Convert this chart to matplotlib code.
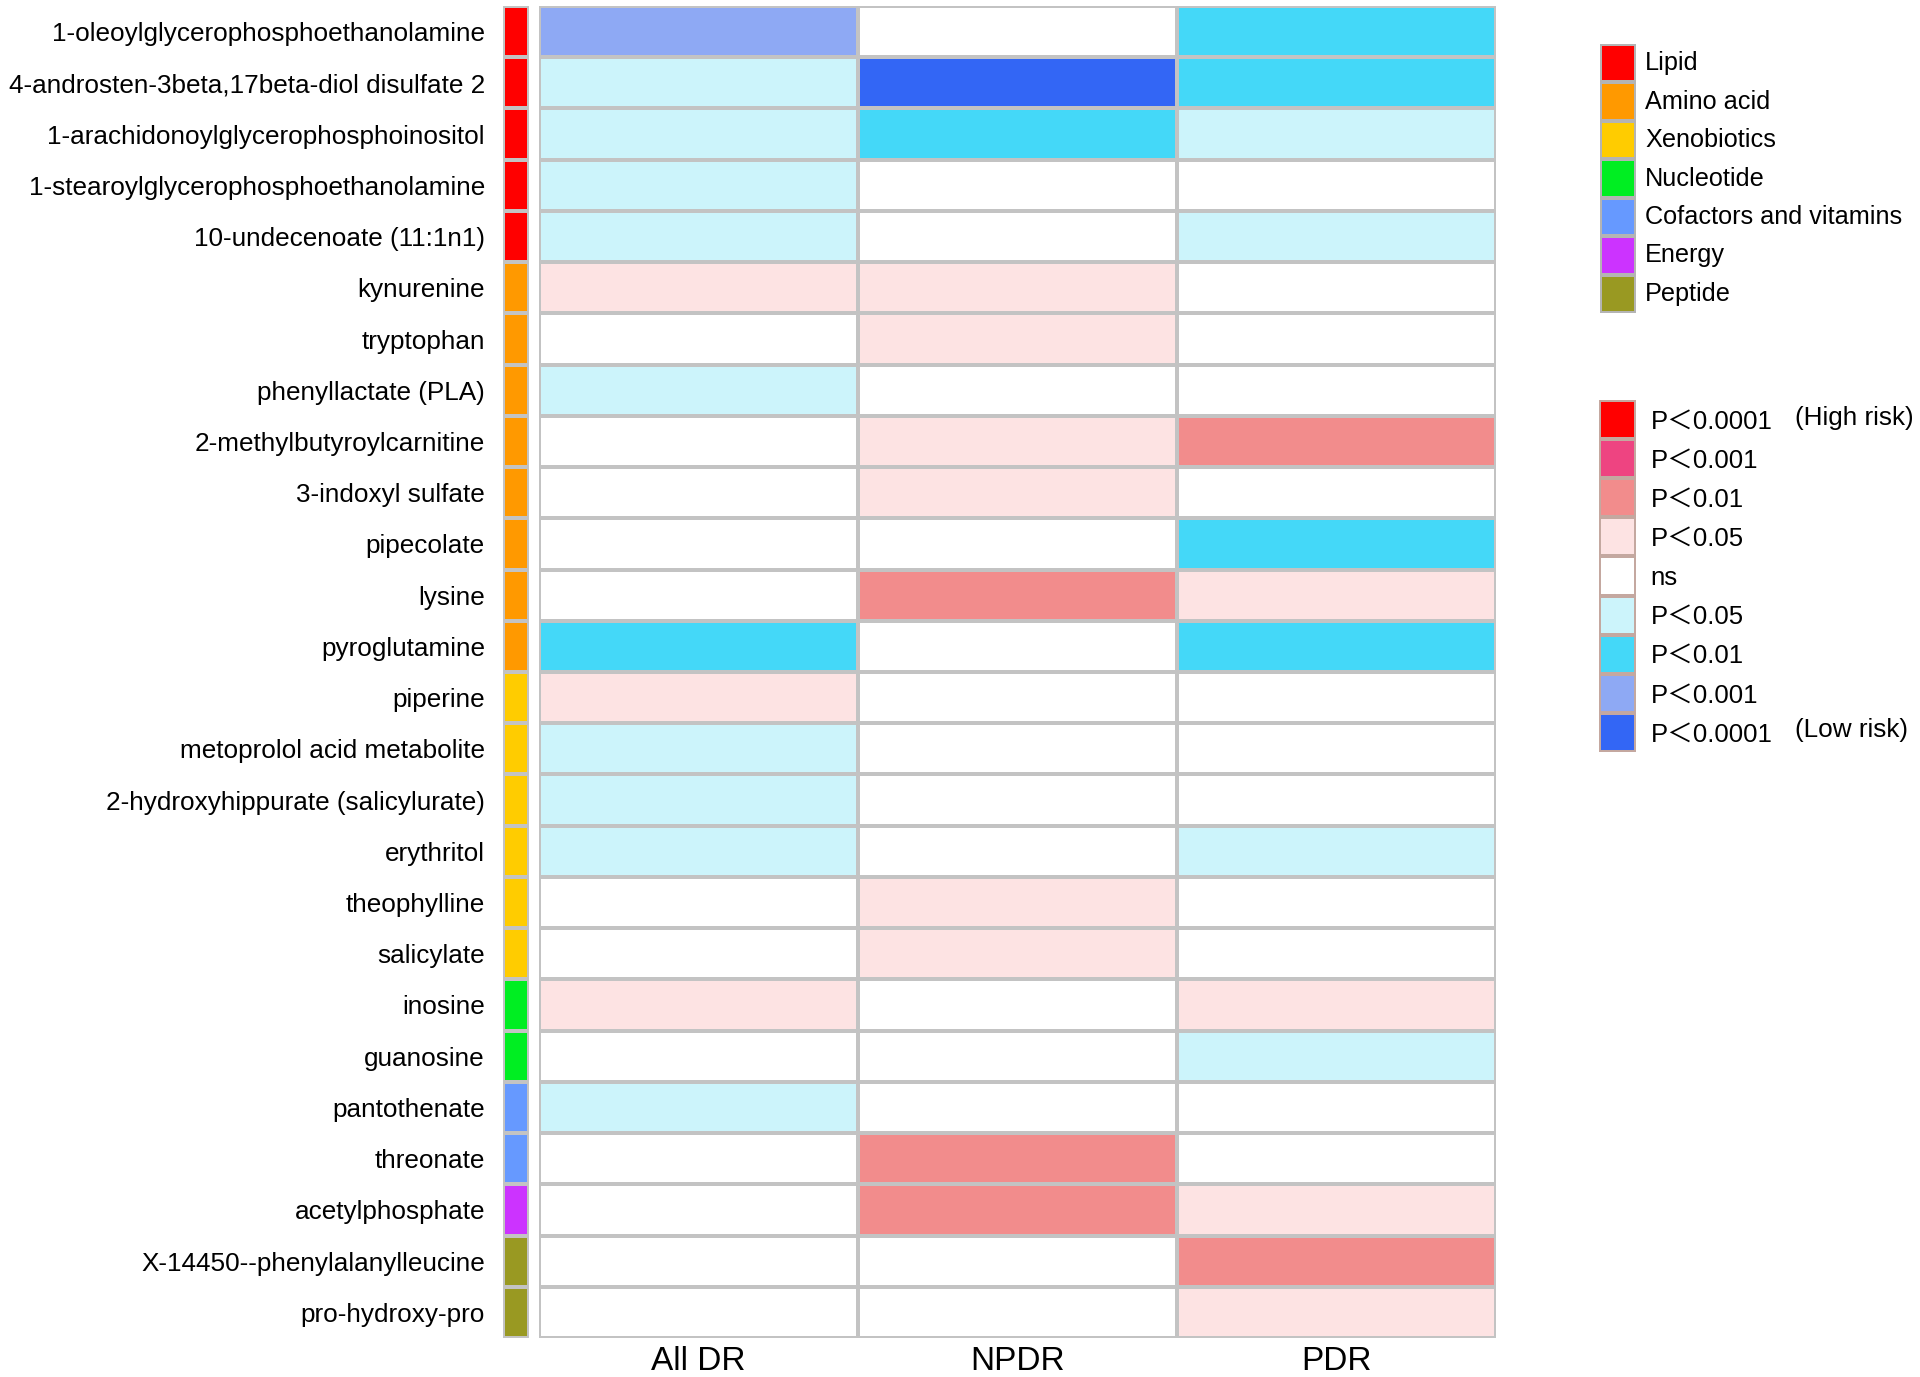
import numpy as np
import matplotlib
matplotlib.use('Agg')
from matplotlib import pyplot as plt
from matplotlib import font_manager
from matplotlib.colors import ListedColormap, BoundaryNorm

# metabolites (top to bottom) and their class
metabolites = ['1-oleoylglycerophosphoethanolamine',
               '4-androsten-3beta,17beta-diol disulfate 2',
               '1-arachidonoylglycerophosphoinositol',
               '1-stearoylglycerophosphoethanolamine',
               '10-undecenoate (11:1n1)',
               'kynurenine', 'tryptophan', 'phenyllactate (PLA)',
               '2-methylbutyroylcarnitine', '3-indoxyl sulfate', 'pipecolate',
               'lysine', 'pyroglutamine',
               'piperine', 'metoprolol acid metabolite',
               '2-hydroxyhippurate (salicylurate)', 'erythritol', 'theophylline',
               'salicylate',
               'inosine', 'guanosine',
               'pantothenate', 'threonate',
               'acetylphosphate',
               'X-14450--phenylalanylleucine', 'pro-hydroxy-pro']
row_class = [0, 0, 0, 0, 0,
             1, 1, 1, 1, 1, 1, 1, 1,
             2, 2, 2, 2, 2, 2,
             3, 3,
             4, 4,
             5,
             6, 6]

groups = ['All DR', 'NPDR', 'PDR']
# significance level: +4 = P<0.0001 high risk ... 0 = ns ... -4 = P<0.0001 low risk
all_dr = [-3, -1, -1, -1, -1, 1, 0, -1, 0, 0, 0, 0, -2, 1, -1, -1, -1, 0, 0, 1, 0, -1, 0, 0, 0, 0]
npdr = [0, -4, -2, 0, 0, 1, 1, 0, 1, 1, 0, 2, 0, 0, 0, 0, 0, 1, 1, 0, 0, 0, 2, 2, 0, 0]
pdr = [-2, -2, -1, 0, -1, 0, 0, 0, 2, 0, -2, 1, -2, 0, 0, 0, -1, 0, 0, 1, -1, 0, 0, 1, 2, 1]

class_names = ['Lipid', 'Amino acid', 'Xenobiotics', 'Nucleotide',
               'Cofactors and vitamins', 'Energy', 'Peptide']
class_colors = ['#FF0000', '#FF9900', '#FFCC00', '#00EE22',
                '#6699FF', '#CC33FF', '#999922']

sig_levels = [4, 3, 2, 1, 0, -1, -2, -3, -4]
sig_labels = ['P＜0.0001', 'P＜0.001', 'P＜0.01', 'P＜0.05', 'ns',
              'P＜0.05', 'P＜0.01', 'P＜0.001', 'P＜0.0001']
sig_colors = ['#FF0000', '#EE4481', '#F28C8C', '#FDE3E3', '#FFFFFF',
              '#CCF4FB', '#44D8F8', '#8EA9F4', '#3366F5']

names = {f.name for f in font_manager.fontManager.ttflist}
narrow = 'Liberation Sans Narrow' if 'Liberation Sans Narrow' in names else 'Liberation Sans'
plt.rcParams['font.family'] = ['Liberation Sans', 'Noto Sans CJK SC', 'DejaVu Sans']

W, H = 1920, 1377
fig = plt.figure(figsize=(W / 100, H / 100), dpi=100)


def px_axes(x0, y0, x1, y1):
    # axes from pixel box (top-left origin)
    return fig.add_axes([x0 / W, 1 - y1 / H, (x1 - x0) / W, (y1 - y0) / H])


grid_col = '#C3C3C3'
n = len(metabolites)

# main heatmap
ax = px_axes(539, 6, 1496, 1338)
Z = np.array([all_dr, npdr, pdr]).T
cmap = ListedColormap(sig_colors[::-1])
norm = BoundaryNorm(np.arange(-4.5, 5.5, 1), cmap.N)
ax.pcolormesh(Z, cmap=cmap, norm=norm, edgecolors=grid_col, linewidth=1.6)
ax.set_xlim(0, 3)
ax.set_ylim(n, 0)
ax.set_xticks(np.arange(3) + 0.5)
ax.set_xticklabels(groups, fontsize=27 if narrow != 'Liberation Sans' else 24, family=narrow)
ax.set_yticks([])
ax.tick_params(axis='x', length=0, pad=6)
for s in ax.spines.values():
    s.set_visible(False)

# class colour strip with metabolite names
ax_s = px_axes(503, 6, 529, 1338)
cmap_c = ListedColormap(class_colors)
ax_s.pcolormesh(np.array(row_class).reshape(-1, 1), cmap=cmap_c,
                vmin=-0.5, vmax=len(class_colors) - 0.5,
                edgecolors=grid_col, linewidth=1.6)
ax_s.set_xlim(0, 1)
ax_s.set_ylim(n, 0)
ax_s.set_xticks([])
ax_s.set_yticks(np.arange(n) + 0.5)
ax_s.set_yticklabels(metabolites, fontsize=18.8)
ax_s.tick_params(axis='y', length=0, pad=13)
for s in ax_s.spines.values():
    s.set_visible(False)

# legend for classes
ax_l1 = px_axes(1600, 44, 1636, 313)
ax_l1.pcolormesh(np.arange(len(class_names)).reshape(-1, 1), cmap=cmap_c,
                 vmin=-0.5, vmax=len(class_colors) - 0.5,
                 edgecolors='#B4B4B4', linewidth=1.6)
ax_l1.set_xlim(0, 1)
ax_l1.set_ylim(len(class_names), 0)
for i, name in enumerate(class_names):
    ax_l1.text(1.25, i + 0.5, name, fontsize=18.2, va='center', ha='left')
ax_l1.axis('off')

# legend for significance
ax_l2 = px_axes(1599, 400, 1636, 752)
ax_l2.pcolormesh(np.array(sig_levels).reshape(-1, 1), cmap=cmap, norm=norm,
                 edgecolors='#C4A8A0', linewidth=1.6)
ax_l2.set_xlim(0, 1)
ax_l2.set_ylim(len(sig_levels), 0)
for i, lab in enumerate(sig_labels):
    ax_l2.text(1.4, i + 0.55, lab, fontsize=18.5, va='center', ha='left')
ax_l2.text(5.3, 0.45, '(High risk)', fontsize=18.8, va='center', ha='left')
ax_l2.text(5.3, 8.45, '(Low risk)', fontsize=18.8, va='center', ha='left')
ax_l2.axis('off')

plt.savefig('out.png', dpi=100)
